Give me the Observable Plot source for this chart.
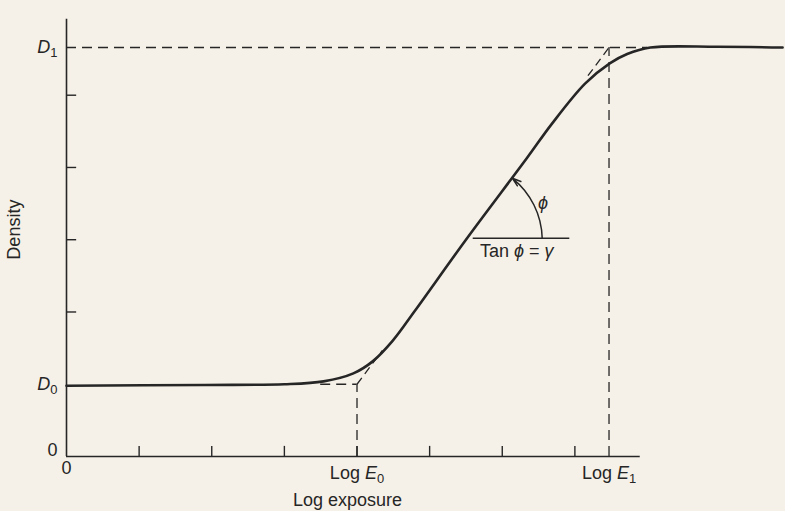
<!DOCTYPE html>
<html>
<head>
<meta charset="utf-8">
<script src="https://cdn.jsdelivr.net/npm/d3@7"></script>
<script src="https://cdn.jsdelivr.net/npm/@observablehq/plot@0.6"></script>
<style>
  html, body { margin: 0; padding: 0; background: #f6f1e8; }
  #chart { width: 785px; height: 511px; }
</style>
</head>
<body>
<div id="chart"></div>
<script>
// ---- data ----
const curveX = [0, 1.9, 3.0, 3.54, 3.95, 4.22, 4.49, 4.80, 5.5, 6.34, 6.68, 7.14, 7.48, 7.72, 8.04, 8.96, 9.86];
const curveY = [0.98, 0.99, 1.0, 1.04, 1.15, 1.32, 1.60, 2.02, 3.0, 4.13, 4.60, 5.16, 5.44, 5.57, 5.66, 5.67, 5.66];

const logE0 = 4.0;
const logE1 = 7.47;
const D0 = 1.0;
const D1 = 5.66;

const xTickValues = [1, 2, 3, 4, 5, 6, 7];
const yTickValues = [2, 3, 4, 5];

const xTickLabels = [
  {x: 0, label: "0"},
  {x: logE0, label: "Log *E*_0"},
  {x: logE1, label: "Log *E*_1"}
];
const yTickLabels = [
  {y: 0, label: "0"},
  {y: D0, label: "*D*_0"},
  {y: D1, label: "*D*_1"}
];

// tangent (extrapolated straight-line) dashed pieces
const tangentSegments = [
  {x1: logE0, y1: D0, x2: 4.35, y2: 1.47},
  {x1: 7.18, y1: 5.27, x2: logE1, y2: D1}
];
// gamma annotation
const gammaBase = [{y: 3.02, x1: 5.6, x2: 6.93}];
const gammaArrow = [{x1: 6.55, y1: 3.02, x2: 6.14, y2: 3.85}];
const annotations = [
  {x: 6.2, y: 2.84, label: "Tan *ϕ* = *γ*"},
  {x: 6.56, y: 3.51, label: "*ϕ*"}
];
const xAxisExtent = 7.9;
const yAxisExtent = 6.05;
const xTitle = "Log exposure";
const yTitle = "Density";

// ---- drawing ----
const ink = "#262626";
const dash = "10,6";
const tick = 0.14;
const fs = 18;

const curve = curveX.map((x, i) => ({x, y: curveY[i]}));

const chart = Plot.plot({
  width: 785,
  height: 511,
  marginLeft: 66,
  marginRight: 0,
  marginTop: 8,
  marginBottom: 55,
  x: {domain: [0, 9.9], axis: null},
  y: {domain: [0, 6.2], axis: null},
  style: {background: "#f6f1e8", fontFamily: "'Liberation Sans', Arial, sans-serif", fontSize: "18px", color: ink},
  marks: [
    // axes
    Plot.ruleY([0], {x1: 0, x2: xAxisExtent, stroke: ink, strokeWidth: 1.6}),
    Plot.ruleX([0], {y1: 0, y2: yAxisExtent, stroke: ink, strokeWidth: 1.6}),
    Plot.ruleX(xTickValues, {x: d => d, y1: 0, y2: tick, stroke: ink, strokeWidth: 1.4}),
    Plot.ruleY(yTickValues, {y: d => d, x1: 0, x2: tick, stroke: ink, strokeWidth: 1.4}),
    // dashed guides
    Plot.ruleY([D1], {x1: 0, x2: 8.0, stroke: ink, strokeWidth: 1.3, strokeDasharray: dash}),
    Plot.ruleX([logE1], {y1: 0, y2: D1, stroke: ink, strokeWidth: 1.3, strokeDasharray: dash}),
    Plot.ruleX([logE0], {y1: 0, y2: D0, stroke: ink, strokeWidth: 1.3, strokeDasharray: dash}),
    Plot.ruleY([D0], {x1: 3.5, x2: logE0, stroke: ink, strokeWidth: 1.3, strokeDasharray: dash}),
    Plot.link(tangentSegments, {x1: "x1", y1: "y1", x2: "x2", y2: "y2", stroke: ink, strokeWidth: 1.3, strokeDasharray: "8,5"}),
    // characteristic curve
    Plot.line(curve, {x: "x", y: "y", curve: "catmull-rom", stroke: ink, strokeWidth: 2.6}),
    // gamma angle
    Plot.ruleY(gammaBase, {y: "y", x1: "x1", x2: "x2", stroke: ink, strokeWidth: 1.4}),
    Plot.arrow(gammaArrow, {x1: "x1", y1: "y1", x2: "x2", y2: "y2", bend: -25, headLength: 9, headAngle: 36, stroke: ink, strokeWidth: 1.5}),
    // tick labels
    Plot.text(xTickLabels.filter(d => d.x === 0), {x: "x", y: 0, text: "label", dy: 12, fontSize: fs, fill: ink}),
    Plot.text(xTickLabels.filter(d => d.x !== 0), {x: "x", y: 0, text: "label", dy: 17, fontSize: fs, fill: ink}),
    Plot.text(yTickLabels.filter(d => d.y === 0), {x: 0, y: "y", text: "label", dx: -9, dy: -6, textAnchor: "end", fontSize: fs, fill: ink}),
    Plot.text(yTickLabels.filter(d => d.y !== 0), {x: 0, y: "y", text: "label", dx: -9, textAnchor: "end", fontSize: fs, fill: ink}),
    // annotations
    Plot.text(annotations, {x: "x", y: "y", text: "label", fontSize: fs, fill: ink}),
    // titles
    Plot.text([xTitle], {x: 3.87, y: 0, text: d => d, dy: 44, fontSize: fs, fill: ink}),
    Plot.text([yTitle], {x: 0, y: 3.14, text: d => d, dx: -52.6, rotate: -90, fontSize: fs, fill: ink})
  ]
});

// rich text: *italic* and _subscript
d3.select(chart).selectAll("text").each(function () {
  const s = this.textContent;
  if (!/[*_]/.test(s)) return;
  const el = d3.select(this);
  el.text(null);
  const parts = s.split(/(\*[^*]+\*|_\S+)/).filter(Boolean);
  for (const p of parts) {
    if (p[0] === "*") el.append("tspan").attr("font-style", "italic").text(p.slice(1, -1));
    else if (p[0] === "_") el.append("tspan").attr("font-size", "72%").attr("dy", "0.3em").text(p.slice(1));
    else el.append("tspan").text(p);
  }
});

document.getElementById("chart").appendChild(chart);
</script>
</body>
</html>
